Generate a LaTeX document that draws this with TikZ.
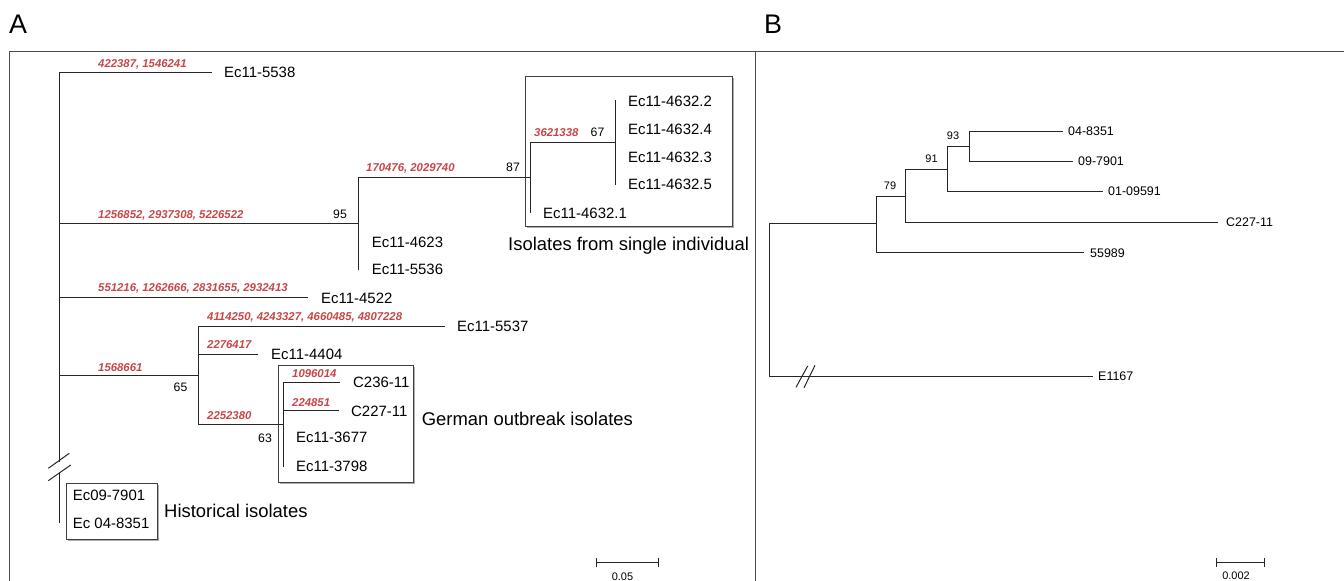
\documentclass[tikz,border=0pt]{standalone}
\usepackage{fontspec}
\setmainfont{Liberation Sans}
\usetikzlibrary{shadows}
\definecolor{redlab}{RGB}{200,70,70}
\begin{document}
\begin{tikzpicture}[x=1bp,y=-1bp,
  br/.style={line width=1.2bp, draw=black!85},
  frame/.style={line width=1bp, draw=black!70},
  leafA/.style={font=\fontsize{15}{18}\selectfont, anchor=west, inner sep=0pt, text height=10.7pt, text depth=0pt},
  leafB/.style={font=\fontsize{12.5}{15}\selectfont, anchor=west, inner sep=0pt, text height=9pt, text depth=0pt},
  snp/.style={font=\fontsize{11.4}{13}\selectfont\bfseries\itshape, text=redlab, anchor=west, inner sep=0pt, text height=8.2pt, text depth=0pt},
  bsA/.style={font=\fontsize{12.3}{14}\selectfont, inner sep=0pt, text height=8.8pt, text depth=0pt},
  bsB/.style={font=\fontsize{11}{13}\selectfont, inner sep=0pt, text height=7.9pt, text depth=0pt},
  grp/.style={font=\fontsize{18.5}{22}\selectfont, anchor=west, inner sep=0pt, text height=13.3pt, text depth=0pt},
  panel/.style={font=\fontsize{27}{30}\selectfont, anchor=west, inner sep=0pt, text height=19.3pt, text depth=0pt},
  sclab/.style={font=\fontsize{11}{13}\selectfont, inner sep=0pt, text height=7.9pt, text depth=0pt},
  slash/.style={line width=1bp, draw=black!85},
  gbox/.style={draw=black!75, line width=1bp, fill=white, inner sep=0pt,
    drop shadow={shadow xshift=1.5bp, shadow yshift=-1.5bp, fill=black!45, opacity=0.7}}
]
\useasboundingbox (0,0) rectangle (1344,581);

% panel labels and frame
\node[panel] (pA) at (9,24) {A};
\node[panel] (pB) at (764,24) {B};
\coordinate (f1) at (9.5,581);
\coordinate (f2) at (9.5,51.5);
\coordinate (f3) at (1344,51.5);
\coordinate (f4) at (755.5,51.5);
\coordinate (f5) at (755.5,581);
\draw[frame] (f1) -- (f2) -- (f3);
\draw[frame] (f4) -- (f5);

% ===== group boxes =====
\node[gbox, minimum width=207bp, minimum height=150bp] (boxIso) at (628.5,151.5) {};
\node[gbox, minimum width=135bp, minimum height=117bp] (boxGer) at (345.5,423.5) {};
\node[gbox, minimum width=91bp, minimum height=56bp] (boxHist) at (111.5,511.5) {};

% ===== Panel A tree =====
\coordinate (rA) at (59.5,375.5);
\coordinate (t5538) at (212,72.5);
\coordinate (n95) at (358.5,223.5);
\coordinate (t4522) at (308,297.5);
\coordinate (n65) at (198.5,375.5);
\coordinate (bkA1) at (59.5,461.5);
\coordinate (bkA2) at (59.5,473);
\coordinate (tHist) at (59.5,523);

\draw[br] (rA) |- (t5538);
\draw[br] (rA) |- (n95);
\draw[br] (rA) |- (t4522);
\draw[br] (rA) -- (n65);
\draw[br] (rA) -- (bkA1);
\draw[br] (bkA2) -- (tHist);
\coordinate (sA1) at (48.3,468.3); \coordinate (sA2) at (69.3,453.3);
\coordinate (sA3) at (48.3,480.7); \coordinate (sA4) at (70.7,465);
\draw[slash] (sA1) -- (sA2);
\draw[slash] (sA3) -- (sA4);

% clade 95
\coordinate (n87) at (530.5,177.5);
\coordinate (t5536) at (358.5,270);
\draw[br] (n95) |- (n87);
\draw[br] (n95) -- (t5536);
% clade 87
\coordinate (n67) at (615.5,142.5);
\coordinate (t46321) at (530.5,213);
\draw[br] (n87) |- (n67);
\draw[br] (n87) -- (t46321);
\coordinate (t46322) at (615.5,100);
\coordinate (t46325) at (615.5,185);
\draw[br] (n67) -- (t46322);
\draw[br] (n67) -- (t46325);

% clade 65
\coordinate (t5537) at (445,326.5);
\coordinate (t4404) at (258,354.5);
\coordinate (n63) at (283.5,424.5);
\draw[br] (n65) |- (t5537);
\draw[br] (n65) |- (t4404);
\draw[br] (n65) |- (n63);
\coordinate (t236) at (340,382.5);
\coordinate (t227) at (339,410.5);
\coordinate (t3798) at (283.5,467);
\draw[br] (n63) |- (t236);
\draw[br] (n63) |- (t227);
\draw[br] (n63) -- (t3798);

% leaf labels A
\node[leafA] (L5538) at (224,72.3) {Ec11-5538};
\node[leafA] (L46322) at (628,100.7) {Ec11-4632.2};
\node[leafA] (L46324) at (628,129) {Ec11-4632.4};
\node[leafA] (L46323) at (628,156.7) {Ec11-4632.3};
\node[leafA] (L46325) at (628,184.3) {Ec11-4632.5};
\node[leafA] (L46321) at (543,213) {Ec11-4632.1};
\node[leafA] (L4623) at (371.7,241.7) {Ec11-4623};
\node[leafA] (L5536) at (371.7,269) {Ec11-5536};
\node[leafA] (L4522) at (321,297.7) {Ec11-4522};
\node[leafA] (L5537) at (457,326) {Ec11-5537};
\node[leafA] (L4404) at (271,354) {Ec11-4404};
\node[leafA] (L236) at (353,382) {C236-11};
\node[leafA] (L227) at (351,410.7) {C227-11};
\node[leafA] (L3677) at (296,437) {Ec11-3677};
\node[leafA] (L3798) at (296,465.7) {Ec11-3798};
\node[leafA] (L7901) at (72.7,495) {Ec09-7901};
\node[leafA] (L8351) at (72.7,522.7) {Ec 04-8351};

% group labels
\node[grp] (gIso) at (508,244) {Isolates from single individual};
\node[grp] (gGer) at (421.7,419.3) {German outbreak isolates};
\node[grp] (gHist) at (164,511) {Historical isolates};

% SNP labels
\node[snp] (s1) at (98,63) {422387, 1546241};
\node[snp] (s2) at (98,214) {1256852, 2937308, 5226522};
\node[snp] (s3) at (366,167) {170476, 2029740};
\node[snp] (s4) at (534,132) {3621338};
\node[snp] (s5) at (98,287) {551216, 1262666, 2831655, 2932413};
\node[snp] (s6) at (207,316) {4114250, 4243327, 4660485, 4807228};
\node[snp] (s7) at (207,344) {2276417};
\node[snp] (s8) at (98,367) {1568661};
\node[snp] (s9) at (207,415) {2252380};
\node[snp] (s10) at (292,373) {1096014};
\node[snp] (s11) at (292,402) {224851};

% bootstrap A
\node[bsA] (b95) at (340,214) {95};
\node[bsA] (b87) at (513,167) {87};
\node[bsA] (b67) at (597.5,132) {67};
\node[bsA] (b65) at (180.5,387) {65};
\node[bsA] (b63) at (265,437.7) {63};

% scale bar A
\coordinate (scA1) at (596.5,562.5);
\coordinate (scA2) at (658.5,562.5);
\draw[slash] (scA1) -- (scA2);
\draw[slash] ([yshift=-4.5bp]scA1) -- ([yshift=4.5bp]scA1);
\draw[slash] ([yshift=-4.5bp]scA2) -- ([yshift=4.5bp]scA2);
\node[sclab] (scAl) at (622.5,576.5) {0.05};

% ===== Panel B tree =====
\coordinate (rB) at (769.5,300);
\coordinate (n79) at (876.5,223.5);
\coordinate (tE) at (1093,376.5);
\draw[br] (rB) |- (n79);
\draw[br] (rB) |- (tE);
\coordinate (sB1) at (796,387.3); \coordinate (sB2) at (807.7,366);
\coordinate (sB3) at (804,387.7); \coordinate (sB4) at (815,365.3);
\draw[slash] (sB1) -- (sB2);
\draw[slash] (sB3) -- (sB4);

\coordinate (n91) at (905.5,196.5);
\coordinate (t55989) at (1084,252.5);
\draw[br] (n79) |- (n91);
\draw[br] (n79) |- (t55989);
\coordinate (n93) at (947.5,169.5);
\coordinate (tC227) at (1218,222.5);
\draw[br] (n91) |- (n93);
\draw[br] (n91) |- (tC227);
\coordinate (n969) at (969.5,146.5);
\coordinate (t01) at (1103,191.5);
\draw[br] (n93) |- (n969);
\draw[br] (n93) |- (t01);
\coordinate (t0483) at (1063,131.5);
\coordinate (t0979) at (1073,161.5);
\draw[br] (n969) |- (t0483);
\draw[br] (n969) |- (t0979);

\node[leafB] (M0483) at (1068,131) {04-8351};
\node[leafB] (M0979) at (1078,161) {09-7901};
\node[leafB] (M01) at (1108,191.5) {01-09591};
\node[leafB] (MC227) at (1226,222.3) {C227-11};
\node[leafB] (M55989) at (1090,252.7) {55989};
\node[leafB] (ME) at (1098,376) {E1167};

\node[bsB] (b79) at (890,186) {79};
\node[bsB] (b91) at (931.5,159) {91};
\node[bsB] (b93) at (953,135.7) {93};

% scale bar B
\coordinate (scB1) at (1216.5,562.5);
\coordinate (scB2) at (1264.5,562.5);
\draw[slash] (scB1) -- (scB2);
\draw[slash] ([yshift=-4.5bp]scB1) -- ([yshift=4.5bp]scB1);
\draw[slash] ([yshift=-4.5bp]scB2) -- ([yshift=4.5bp]scB2);
\node[sclab] (scBl) at (1236,576) {0.002};
\end{tikzpicture}
\end{document}
